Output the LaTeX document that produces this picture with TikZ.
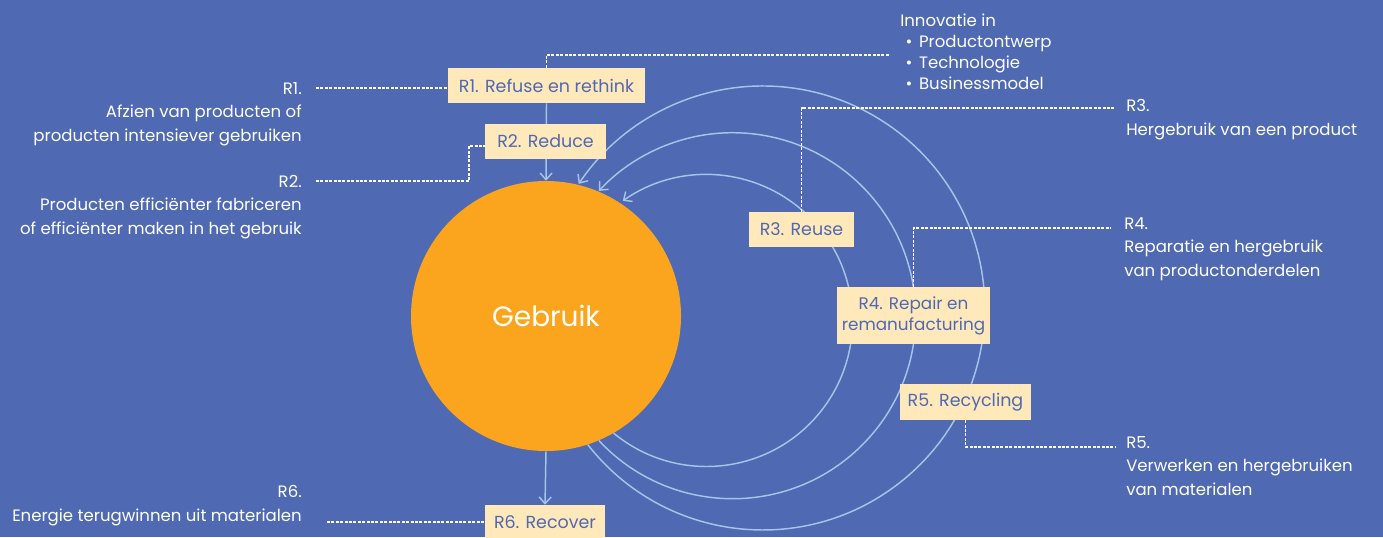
\documentclass[tikz,border=0pt]{standalone}
\usepackage{fontspec}
\setmainfont{Poppins}
\usetikzlibrary{arrows.meta}
\definecolor{bg}{RGB}{79,106,178}
\definecolor{org}{RGB}{251,165,30}
\definecolor{cream}{RGB}{255,232,186}
\definecolor{arcc}{RGB}{165,196,232}
\begin{document}
\begin{tikzpicture}[x=0.75pt,y=-0.75pt,
 box/.style={fill=cream,text=bg,inner sep=0pt,font=\fontsize{13.1}{15.75}\selectfont,align=center},
 lbl/.style={text=white,inner sep=0pt,font=\fontsize{12.4}{17.6}\selectfont},
 dotl/.style={white,line width=1pt,dash pattern=on 2.2pt off 1.1pt},
 arcl/.style={arcc,line width=1.1pt,-{Straight Barb[length=5pt,width=9pt]}}]
\fill[bg] (0,0) rectangle (1383,537);
\useasboundingbox (0,0) rectangle (1383,537);

\node[circle,fill=org,minimum size={270*0.75pt},inner sep=0pt,text=white,font=\fontsize{21}{21}\selectfont] (g) at (546,316) {Gebruik};

% loops
\draw[arcl] (g.-72.4) arc[start angle=142, end angle=-146, radius=222];
\draw[arcl] (g.-67.2) arc[start angle=137, end angle=-137, radius=183];
\draw[arcl] (g.-60.6) arc[start angle=129.5, end angle=-125, radius=146];

% boxes
\node[box,minimum width={197*0.75pt},minimum height={35*0.75pt}] (b1) at (546.5,85.5) {R1. Refuse en rethink};
\node[box,minimum width={105*0.75pt},minimum height={35*0.75pt}] (b3) at (801.5,229.5) {R3. Reuse};
\node[box,minimum width={153*0.75pt},minimum height={57*0.75pt},font=\fontsize{12.6}{15.75}\selectfont] (b4) at (913.5,315.5) {R4. Repair en\\remanufacturing};
\node[box,minimum width={131*0.75pt},minimum height={36*0.75pt}] (b5) at (965.5,402) {R5. Recycling};
\node[box,minimum width={120*0.75pt},minimum height={35*0.75pt}] (b6) at (545,522.5) {R6. Recover};

% vertical arrows
\draw[arcl] (b1.south) -- (g.north);
\node[box,minimum width={121*0.75pt},minimum height={35*0.75pt}] (b2) at (545.5,141.5) {R2. Reduce};
\draw[arcl] (g.south) -- (b6.north);

% labels (anchored at the baseline of the last line)
\node[lbl,anchor=base east,align=right] (t1) at (302,141) {R1.\\Afzien van producten of\\producten intensiever gebruiken};
\node[lbl,anchor=base east,align=right] (t2) at (302,234) {R2.\\Producten efficiënter fabriceren\\of efficiënter maken in het gebruik};
\node[lbl,anchor=base east,align=right] (t6) at (302,521) {R6.\\Energie terugwinnen uit materialen};
\node[lbl,anchor=base west,align=left] (t3) at (1126,135) {R3.\\Hergebruik van een product};
\node[lbl,anchor=base west,align=left] (t4) at (1124,276) {R4.\\Reparatie en hergebruik\\van productonderdelen};
\node[lbl,anchor=base west,align=left] (t5) at (1126,495) {R5.\\Verwerken en hergebruiken\\van materialen};
\node[lbl,anchor=base west,align=left,font=\fontsize{12.4}{15.75}\selectfont] (tin) at (900,89) {Innovatie in\\\hspace*{4pt}\textbullet\hspace{5pt}Productontwerp\\\hspace*{4pt}\textbullet\hspace{5pt}Technologie\\\hspace*{4pt}\textbullet\hspace{5pt}Businessmodel};

% dotted connectors
\coordinate (c1) at (316,88);
\draw[dotl] (c1) -- (c1 -| b1.west);
\coordinate (c2a) at (316,181);
\coordinate (c2b) at (469,146);
\draw[dotl] (c2a) -| (c2b) -- (c2b -| b2.west);
\coordinate (c6) at (327,522);
\draw[dotl] (c6) -- (c6 -| b6.west);
\coordinate (ci) at (890,55);
\draw[dotl] (b1.north) |- (ci);
\coordinate (c3) at (1115,108);
\draw[dotl] (b3.north) |- (c3);
\coordinate (c4) at (1110,228);
\draw[dotl] (b4.north) |- (c4);
\coordinate (c5) at (1115,447);
\draw[dotl] (b5.south) |- (c5);
\end{tikzpicture}
\end{document}
